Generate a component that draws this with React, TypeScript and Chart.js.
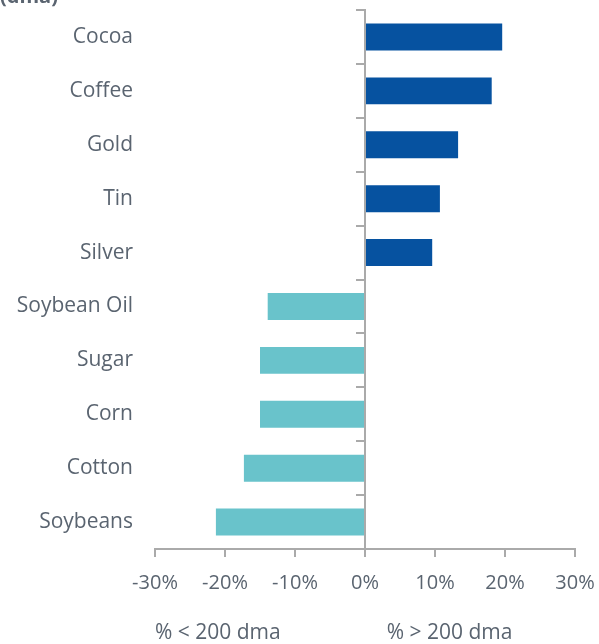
import React, { useEffect, useRef } from "react";
import { Chart, registerables } from "chart.js";

Chart.register(...registerables);

const categories = ["Cocoa", "Coffee", "Gold", "Tin", "Silver", "Soybean Oil", "Sugar", "Corn", "Cotton", "Soybeans"];
const values = [19.6, 18.1, 13.3, 10.7, 9.6, -13.9, -15.0, -15.0, -17.3, -21.3];
const xTickValues = [-30, -20, -10, 0, 10, 20, 30];
const leftNote = "% < 200 dma";
const rightNote = "% > 200 dma";
const titleText = "(dma)";

const POS = "#0652A0";
const NEG = "#69C3CB";
const TEXT = "#5A6470";
const AXIS = "#AAAAAA";
const FONT = "'Open Sans', Lato, sans-serif";

export default function App() {
  const ref = useRef<HTMLCanvasElement | null>(null);

  useEffect(() => {
    document.body.style.margin = "0";
    const canvas = ref.current;
    if (!canvas) return;

    const notes = {
      id: "notes",
      afterDraw(chart: any) {
        const ctx = chart.ctx;
        const xs = chart.scales.x;
        ctx.save();
        ctx.fillStyle = TEXT;
        ctx.font = `21px ${FONT}`;
        ctx.textAlign = "left";
        ctx.textBaseline = "middle";
        ctx.fillText(leftNote, xs.getPixelForValue(xTickValues[0]), 633);
        ctx.fillText(rightNote, xs.getPixelForValue(3.1), 633);
        ctx.font = `bold 20px ${FONT}`;
        ctx.textBaseline = "alphabetic";
        ctx.fillText(titleText, 0, 3);
        ctx.restore();
      },
    };

    const chart = new Chart(canvas, {
      type: "bar",
      data: {
        labels: categories,
        datasets: [
          {
            data: values,
            backgroundColor: values.map((v) => (v >= 0 ? POS : NEG)),
            barPercentage: 0.5,
            categoryPercentage: 1.0,
            xAxisID: "x",
            yAxisID: "y",
          },
        ],
      },
      options: {
        indexAxis: "y",
        animation: false,
        responsive: false,
        layout: { padding: { top: 10, right: 24, bottom: 50, left: 0 } },
        plugins: { legend: { display: false }, tooltip: { enabled: false }, title: { display: false } },
        scales: {
          x: {
            type: "linear",
            min: -30,
            max: 30,
            afterBuildTicks: (s: any) => {
              s.ticks = xTickValues.map((v) => ({ value: v }));
            },
            afterFit: (s: any) => {
              s.height = 45;
              s.paddingLeft = 0;
              s.paddingRight = 0;
            },
            ticks: {
              callback: (v: any) => `${v}%`,
              color: TEXT,
              font: { family: FONT, size: 20 },
              padding: 14,
              maxRotation: 0,
            },
            grid: { display: true, drawOnChartArea: false, drawTicks: true, tickLength: 8, color: AXIS, lineWidth: 2 },
            border: { display: true, color: AXIS, width: 2 },
          },
          y: {
            type: "category",
            position: "left",
            afterFit: (s: any) => {
              s.width = 155;
              s.paddingTop = 0;
              s.paddingBottom = 0;
            },
            ticks: { color: TEXT, font: { family: FONT, size: 21 }, padding: 22 },
            grid: { display: false, drawTicks: false },
            border: { display: false },
          },
          y2: {
            type: "category",
            axis: "y",
            position: { x: 0 } as any,
            offset: true,
            afterFit: (s: any) => {
              s.paddingTop = 0;
              s.paddingBottom = 0;
            },
            ticks: { display: false },
            grid: { display: true, offset: true, drawOnChartArea: false, drawTicks: true, tickLength: 8, color: AXIS, lineWidth: 2 },
            border: { display: true, color: AXIS, width: 2 },
          },
        },
      } as any,
      plugins: [notes],
    });

    return () => chart.destroy();
  }, []);

  return <canvas ref={ref} width={599} height={644} />;
}
